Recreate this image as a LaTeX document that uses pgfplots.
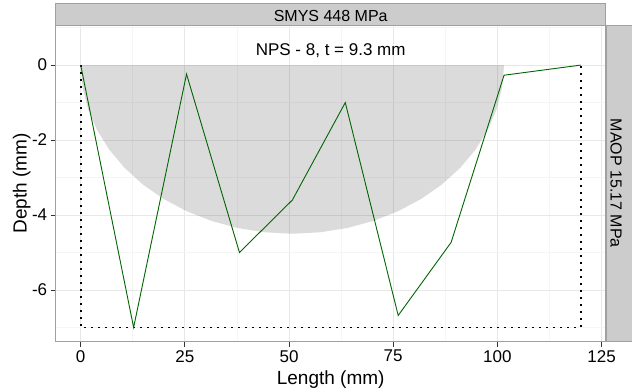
\documentclass[border=0pt]{standalone}
\usepackage{pgfplots}
\pgfplotsset{compat=1.18}
\usepackage{fontspec}
\setmainfont{Liberation Sans}
\definecolor{stripfill}{RGB}{204,204,204}
\definecolor{stripborder}{RGB}{160,160,160}
\definecolor{gridmajor}{RGB}{232,232,232}
\definecolor{gridminor}{RGB}{245,245,245}
\definecolor{tickcol}{RGB}{51,51,51}
\definecolor{linegreen}{RGB}{0,100,0}
\begin{document}
\begin{tikzpicture}
\begin{axis}[
  scale only axis, width=550bp, height=316.7bp,
  xmin=-6, xmax=126, ymin=-7.38, ymax=1.07,
  axis line style={draw=stripborder, line width=0.8bp},
  xtick={0,25,50,75,100,125}, xticklabels={0,25,50,75,100,125},
  ytick={-6,-4,-2,0}, yticklabels={-6,-4,-2,0},
  minor xtick={12.5,37.5,62.5,87.5,112.5},
  minor ytick={-7,-5,-3,-1,1},
  grid=both,
  major grid style={draw=gridmajor, line width=0.8bp},
  minor grid style={draw=gridminor, line width=0.6bp},
  tick align=outside, xtick pos=bottom, ytick pos=left,
  major tick length=5bp, minor tick length=0pt,
  tick style={draw=tickcol, line width=0.8bp},
  ticklabel style={font=\fontsize{17bp}{19bp}\selectfont, text=black},
  xlabel={Length (mm)}, ylabel={Depth (mm)},
  xlabel style={at={(axis description cs:0.5,-0.1336)}, anchor=base, font=\fontsize{19bp}{21bp}\selectfont},
  ylabel style={at={(axis description cs:-0.0618,0.5)}, anchor=center, font=\fontsize{19bp}{21bp}\selectfont},
  clip=false,
]
% semi-elliptical reference defect area
\addplot[draw=none, fill=black, fill opacity=0.14] coordinates {
(0,0) (0.435,-0.587) (1.731,-1.165) (3.867,-1.722) (6.806,-2.25) (10.498,-2.739)
(14.879,-3.182) (19.875,-3.570) (25.4,-3.897) (31.360,-4.157) (37.652,-4.347)
(44.169,-4.461) (50.8,-4.5) (57.431,-4.461) (63.948,-4.347) (70.240,-4.157)
(76.2,-3.897) (81.725,-3.570) (86.721,-3.182) (91.102,-2.739) (94.794,-2.25)
(97.733,-1.722) (99.869,-1.165) (101.165,-0.587) (101.6,0)
} -- cycle;
% dotted bounding box
\addplot[black, line width=1.7bp, line cap=butt, dash pattern=on 1.6bp off 5.4bp] coordinates {
(0,0) (0,-7) (120,-7) (120,0)
};
% depth profile
\addplot[linegreen, line width=0.9bp] coordinates {
(0,0) (12.7,-7.0) (25.4,-0.24) (38.1,-5.0) (50.8,-3.6) (63.5,-1.0)
(76.2,-6.68) (88.9,-4.73) (101.6,-0.27) (120,0)
};
\node[anchor=base, font=\fontsize{17bp}{19bp}\selectfont] at (axis cs:60,0.267) {NPS - 8, t = 9.3 mm};
\end{axis}
\draw[fill=stripfill, draw=stripborder, line width=0.8bp] (0bp,316.7bp) rectangle (550bp,338.4bp);
\node[anchor=base, font=\fontsize{16bp}{18bp}\selectfont] at (275bp,320bp) {SMYS 448 MPa};
\draw[fill=stripfill, draw=stripborder, line width=0.8bp] (551bp,0bp) rectangle (578bp,316.7bp);
\node[rotate=-90, anchor=center, font=\fontsize{16bp}{18bp}\selectfont] at (560.5bp,158.35bp) {MAOP 15.17 MPa};
\pgfresetboundingbox
\path[use as bounding box] (-55.7bp,-50.3bp) rectangle (576.3bp,341.7bp);
\end{tikzpicture}
\end{document}
